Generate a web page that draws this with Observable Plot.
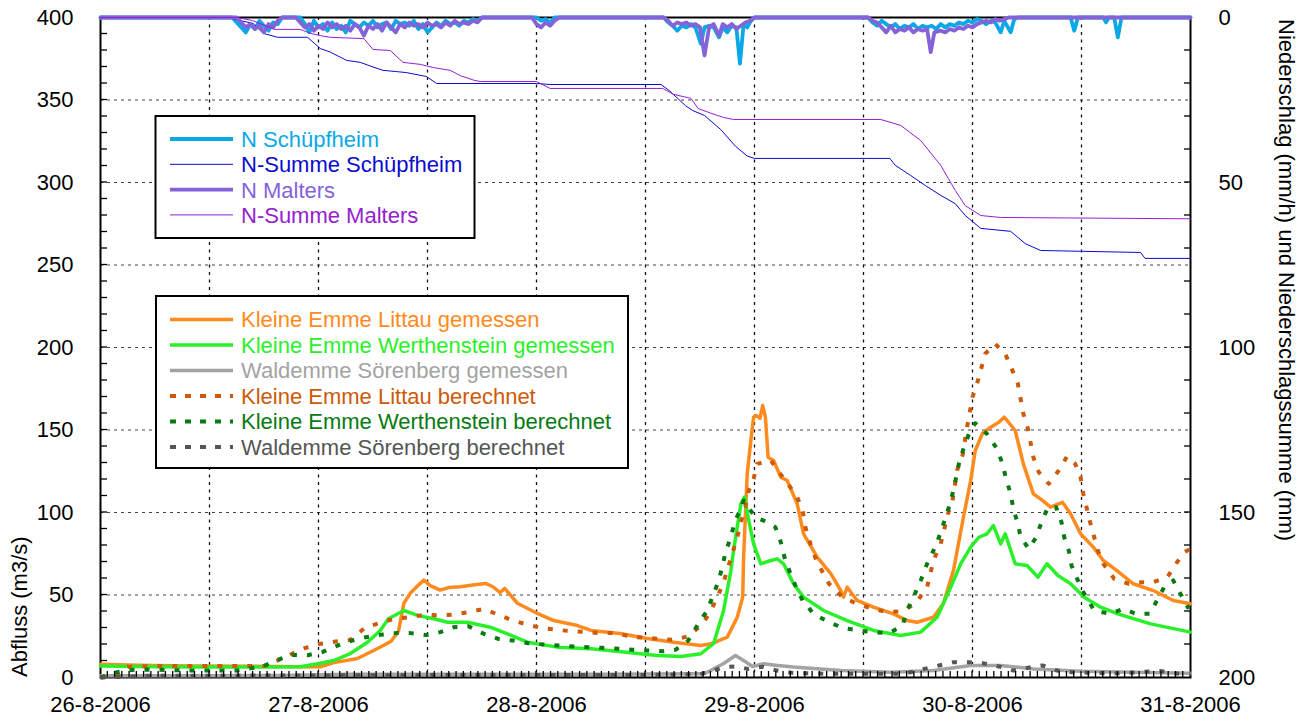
<!DOCTYPE html>
<html>
<head>
<meta charset="utf-8">
<script src="https://cdn.jsdelivr.net/npm/d3@7"></script>
<script src="https://cdn.jsdelivr.net/npm/@observablehq/plot@0.6"></script>
<style>
  body { margin: 0; background: #fff; }
  #chart svg { font-family: "Liberation Sans", Arial, Helvetica, sans-serif; }
</style>
</head>
<body>
<div id="chart"></div>
<script>
// ---------- DATA (time = hours since 26-8-2006 00:00) ----------
const dayTickLabels = ["26-8-2006", "27-8-2006", "28-8-2006", "29-8-2006", "30-8-2006", "31-8-2006"];
const leftTicks = [0, 50, 100, 150, 200, 250, 300, 350, 400];
const rightTickLabels = [0, 50, 100, 150, 200];

// discharge (m3/s)
const littauGemessen = [[0,8],[4,7.5],[10,7],[16,6.8],[22,6.5],[24.2,6.5],[25.7,9],[28.3,11.5],[30.5,17.6],[32,22],[32.8,28],[33.4,45],[34.1,51],[35,56],[35.6,59],[36.3,55.7],[37.4,53],[38.3,54.5],[39.6,55],[41,56],[42.4,57],[43.2,55],[44,51.5],[44.5,54],[45.9,45],[48.1,38.8],[49.9,34.5],[52.5,31.5],[54,28.5],[57.2,26.7],[60.2,23.6],[63.1,21.3],[66.1,19.4],[67.2,20.4],[69,24.4],[70.1,36.5],[70.7,48.7],[70.8,72.9],[71.2,123.6],[71.6,143.6],[71.9,157.8],[72.2,158.8],[72.6,157],[72.9,164.8],[73.2,157.8],[73.5,133.5],[74.1,131.5],[74.9,121.4],[75.6,119.4],[76.7,105.3],[77.4,87],[78.9,72.9],[80.4,63],[81.5,52.7],[81.8,48.7],[82.2,54.7],[83.3,46.7],[85.1,42.6],[87.3,38.6],[88.8,34.5],[89.9,33.5],[91.7,36.5],[92.8,44.8],[93.9,64.8],[95,97.1],[95.8,119.4],[96.3,137.6],[97.1,147.9],[98,151.7],[98.9,154.7],[99.5,157.8],[100.7,149.7],[101.6,129.5],[102.7,111.3],[103.7,107.3],[104.6,103.2],[105.9,106.2],[106.8,99.2],[107.9,87.1],[109.3,79],[110.4,70.9],[111.9,64.8],[113.7,56.8],[115.9,52.7],[118.1,46.7],[120,44.7]];

const werthensteinGemessen = [[0,7],[6,6.5],[12,6.3],[18,6.3],[22,6.5],[23.9,8.3],[25.7,10.3],[27.5,14.5],[29.4,21.4],[30.8,28.5],[31.7,35.6],[33.4,40.6],[34.9,37.6],[36.7,35.6],[38.2,33.5],[40.4,33.5],[42.9,30.5],[44.8,26.5],[47,21.4],[50.3,18.4],[54,17.4],[57.6,15.4],[61.3,13.3],[63.9,12.7],[66.1,14.4],[67.5,20.6],[68.6,40.6],[69.4,64.8],[69.7,77],[70.5,105.3],[70.9,109.3],[71.3,97.1],[71.9,81],[72.7,68.9],[73.8,70.9],[74.5,71.9],[75.2,68.9],[76.3,56.8],[77.4,48.7],[79.6,40.6],[82.2,34.5],[85.1,28.5],[88.1,25.5],[90.3,27.5],[92.1,36.5],[93.6,54.7],[94.7,68.9],[95.8,79],[96.7,85],[97.6,87.1],[98.3,92.1],[99.1,81],[99.6,87.1],[100.7,68.9],[102,67.9],[103.2,60.8],[104.2,68.9],[105.4,61.8],[106.8,56.8],[108.3,48.7],[110.1,42.6],[112,38.6],[115.6,32.5],[120,27.5]];

const waldemmeGemessen = [[0,1],[10,1],[20,1.2],[27,2],[40,2],[55,2],[66,2.2],[66.8,3.2],[68.6,8.5],[69.9,13.3],[70.8,10.3],[71.8,6.7],[73,8.3],[74.5,7.3],[76.3,6.3],[81.5,4.2],[87,3.2],[91.7,4.2],[95.8,7.3],[99.1,7.3],[102.7,5.2],[107.9,3.8],[113.7,3.2],[120,2.6]];

const littauBerechnet = [[0,0],[1.7,1],[3,6.5],[6,7],[12,7],[18,7],[19.5,10.3],[21.1,14.4],[22.6,18],[24.2,20.4],[25.9,21.8],[27.5,22.8],[29.2,30.5],[30.8,33.1],[32.3,35.6],[33.9,36.5],[35.6,38],[37.4,37.6],[38.9,38.2],[40.5,39.6],[42.2,41.6],[43.8,38],[45.4,34.5],[47,32.1],[48.6,29.9],[50.3,28.9],[51.7,28.1],[53.6,27.5],[55,26.9],[56.7,26.9],[58.4,24.8],[60,24],[61.7,23.4],[63.1,22.8],[64.7,25],[66.3,32.5],[67.2,40.6],[68,49.7],[68.6,57.8],[69.1,66.9],[69.6,75.9],[70.1,85],[70.5,94.1],[71,103.2],[71.3,112.3],[71.9,120.4],[72.3,129.5],[73.8,131.5],[74.7,124.4],[75.4,119.4],[76.2,113.3],[76.7,109.3],[77.3,101.2],[77.6,91.1],[78.5,75],[79.3,65.9],[80.2,56.8],[81.7,48.7],[83.3,44.6],[85.1,41.6],[86.6,39.6],[88.1,40],[89.7,44.6],[91,54.7],[91.7,70.9],[92.5,81],[93.3,99.2],[93.8,107.3],[94.3,125.5],[94.9,134.5],[95.4,151.7],[96,169.9],[96.5,178],[97.4,196.2],[98.5,202.2],[99.6,196.2],[100.4,186],[101,178],[101.3,168.9],[101.6,159.8],[102.1,150.7],[102.7,133.5],[103.3,124.4],[104.4,117.4],[105.5,125.5],[106.4,133.9],[107.3,129.5],[107.9,121.4],[108.2,111.3],[108.9,95.1],[109.8,77],[110.4,68.9],[111.6,59.8],[113.2,56.8],[114.8,57.8],[115.9,57.8],[117.5,61.2],[118.4,68.9],[119.3,75.9],[120,78]];

const werthensteinBerechnet = [[0,0],[1.8,3.2],[3.5,4.6],[5.1,4.8],[10,4.2],[15,4.2],[17.9,6.7],[19.5,10.7],[21.1,13.7],[22.8,13.5],[24.4,15.4],[26.1,19.4],[27.7,22.4],[29.2,24.4],[30.8,25.9],[32.5,26.9],[34.1,26.9],[35.8,25.7],[37.4,27.5],[38.9,30.5],[40.5,31.1],[42.2,26.5],[43.8,23.4],[45.4,22.4],[47.1,20.8],[48.8,20],[50.4,19.4],[52.1,18.8],[53.6,18.4],[55.3,18],[57,17.4],[58.6,16.8],[60.2,16.4],[61.9,15.9],[63.3,16.8],[64.7,22.4],[65.8,32.5],[66.8,40.6],[67.5,50.7],[68,57.8],[68.5,67.9],[68.8,75.9],[69.4,85],[69.8,94.1],[70.5,102.2],[70.8,107.3],[72.1,97.1],[73,95.1],[74,92.1],[74.3,91.1],[74.9,82],[75.3,72.9],[75.9,63.8],[76.5,55.7],[77.3,46.7],[78.5,38.6],[80.2,33.5],[81.8,29.9],[83.5,28.5],[85.1,27.5],[86.8,26.9],[88.3,31.5],[88.8,40.6],[89.5,48.7],[90.3,58.8],[91,68.9],[91.7,76.9],[92.3,85],[92.8,93.1],[93.4,103.2],[93.9,113.3],[94.5,129.5],[95,138.6],[95.6,147.6],[96.3,154.1],[97.6,147.6],[98.7,138.6],[99.3,129.5],[99.7,120.4],[100.2,111.3],[100.5,102.2],[101,93.1],[101.3,85],[102.2,78],[103,85],[103.6,94.1],[104.3,103.2],[105.2,103.2],[105.8,94.1],[106.1,85],[106.6,76.9],[106.9,67.9],[107.6,58.8],[108.3,50.7],[109.4,40.6],[111.1,38.6],[112.6,41.6],[114,38.6],[115.5,38.6],[116.2,45.6],[117.1,54.7],[118.1,58.8],[118.9,50.7],[119.8,41.6]];

const waldemmeBerechnet = [[0,0],[5,1],[20,1.2],[40,1.5],[60,1.5],[66,2],[67.5,4],[68.5,6.3],[69.9,6.7],[71.3,5.2],[72.9,6.5],[74.5,4.2],[76.2,2.8],[80,2.2],[88,2.2],[89.2,3.2],[90.7,5.2],[92.3,7.3],[93.9,9.3],[95.6,9.3],[97.1,8.7],[98.9,6.7],[100.5,4.2],[102,5.8],[103.7,7.3],[105.3,4.2],[107,3.2],[112,2.5],[116.7,4],[118,2.5],[120,2.2]];

// precipitation intensity (mm/h) and cumulative sum (mm) -> right axis
const nSchuepfheim = [[0,0],[14.5,0],[15,1.5],[15.5,3],[16,4.5],[16.5,2],[17,3.5],[17.5,1],[18,2.5],[18.5,4],[19,1.5],[19.5,2],[20,0],[22,0],[22.5,2],[23,4.5],[23.5,1],[24,3],[24.5,2],[25,4],[25.5,1.5],[26,3.5],[26.5,2.5],[27,4.5],[27.5,1],[28,2],[28.5,3],[29,1.5],[29.5,2.5],[30,1],[30.5,3],[31,2],[31.5,1.5],[32,3.5],[32.5,1],[33,2],[33.5,1.5],[34,2.5],[34.5,1],[35,3.5],[35.5,2],[36,4.5],[36.5,3],[37,1.5],[37.5,2.5],[38,1],[38.5,2],[39,1.5],[39.5,2.5],[40,1],[40.5,1.5],[41,0.5],[41.5,1],[42,0],[48,0],[48.5,1],[49,0.5],[49.5,1.5],[50,0],[62,0],[62.5,1.5],[63,2.5],[63.5,4],[64,2.5],[64.5,3],[65,2],[65.5,3],[66.1,8],[66.5,3],[67,2.5],[67.5,3],[68.1,6],[68.5,3],[69,4.5],[69.5,2.5],[70,3],[70.4,14],[70.8,2],[71.2,3],[71.6,1],[72,0],[84.5,0],[85,1.5],[85.5,2.5],[86,1],[86.5,2],[87,3],[87.5,2],[88,3.5],[88.5,2.5],[89,3],[89.5,2],[90,3.5],[90.5,2.5],[91,3],[91.5,2.5],[92,3.5],[92.5,2],[93,3],[93.5,2],[94,2.5],[94.5,1.5],[95,2],[95.5,1],[96,1.5],[96.5,0.5],[97,1],[97.5,2],[98,1],[98.5,1.5],[99.1,4.5],[99.5,1],[100.2,4.5],[100.6,0.5],[101,0],[106.8,0],[107.2,4],[107.6,0],[110.4,0],[110.7,1.5],[111,0],[111.6,0],[112,6],[112.4,0],[120,0]];

const summeSchuepfheim = [[0,0],[14,0],[15.5,1],[16.8,1.8],[17.9,4.8],[19.5,6],[22.8,6],[24.2,9.4],[25.3,10.5],[27.1,13],[28.6,13.6],[30,15],[31.1,16],[32.6,16.4],[33.7,16.7],[35.9,17.9],[37,20],[48,20],[49.5,20.3],[61.7,20.3],[62.6,22.1],[64.4,26.7],[65.2,28.2],[66.5,29.7],[68.3,34],[69.9,39],[71.2,42],[72,42.7],[86.9,42.7],[87.5,44.8],[89.2,47.9],[90.8,50.9],[92.5,53.9],[94.1,56.4],[95.2,60],[96.9,63.9],[100.2,64.8],[101.8,68.5],[103.5,70.6],[114.5,71.2],[115,73],[120,73]];

const nMalters = [[0,0],[15,0],[15.5,1.5],[16,3],[16.5,2],[17,3.5],[17.5,2.5],[18,4.5],[18.5,2],[19,3],[19.5,1],[20,0],[21.5,0],[22,1.5],[22.5,3],[23,2],[23.5,4],[24,2.5],[24.5,3.5],[25,1.5],[25.5,3],[26,2],[26.5,3.5],[27,2.5],[27.5,4],[28,2],[28.5,3],[29,5.5],[29.5,2.5],[30,3.5],[30.5,2],[31,4],[31.5,1.5],[32,3],[32.5,4.5],[33,2],[33.5,3],[34,1.5],[34.5,2.5],[35,2],[35.5,3],[36,1.5],[36.5,2.5],[37,2],[37.5,3],[38,1.5],[38.5,2.5],[39,1],[39.5,2],[40,1.5],[40.5,2],[41,1],[41.5,1.5],[42,0],[47.5,0],[48,2],[48.5,3],[49,1.5],[49.5,2.5],[50,1],[50.5,0],[62,0],[62.5,1],[63,2.5],[63.5,1.5],[64,2],[64.5,1.5],[65,2.5],[65.5,2],[66,3],[66.5,11.5],[67,3],[67.5,2],[68.1,5.5],[68.5,2],[69,3],[69.5,2],[70,3.5],[70.5,2.5],[71,1.5],[71.5,1],[72,0],[84.5,0],[85,1],[85.5,1.5],[86,3],[86.5,4.5],[87,2.5],[87.5,4.5],[88,3.5],[88.5,4],[89,3],[89.5,4.5],[90,3.5],[90.5,4],[91,3.5],[91.4,10.5],[91.8,4.5],[92.5,4],[93,4.5],[93.5,3.5],[94,4],[94.5,3],[95,3.5],[95.5,2.5],[96,3],[96.5,2],[97,1.5],[97.5,1],[98,1.5],[98.5,0.5],[99,1],[99.5,0.5],[100,0],[120,0]];

const summeMalters = [[0,0],[15,0],[16.7,0.9],[19.2,3.6],[22,3.6],[23.1,4.8],[24.2,5.5],[25.3,6],[29,6.4],[30,9.7],[31.9,10],[33.3,13.6],[35.2,14.2],[36.7,15.2],[38.5,16],[39.6,17.6],[41.1,19],[41.8,19.4],[48,19.4],[49.5,21.5],[61.9,21.5],[63.1,23.3],[65,24.5],[65.8,27.6],[67.2,29],[68.6,30.3],[69.7,30.9],[85.9,30.9],[88.1,32.7],[90.3,37.3],[92.5,44.8],[94.1,52.4],[95.2,57],[96.9,60],[99.1,60.6],[120,61]];

// ---------- SCALES / HELPERS ----------
const START = Date.UTC(2006, 7, 26);
const T = h => new Date(START + h * 3600e3);
const rightToLeft = r => 400 - 2 * r;       // secondary axis: mm (0 top, 200 bottom)
const dayTicks = dayTickLabels.map((_, i) => T(24 * i));
const gridTimes = d3.range(12, 120, 12).map(T);
const minorX = d3.range(0.8, 120, 0.8).map(T);
const minorYLeft = d3.range(10, 400, 10);
const minorYRight = d3.range(20, 400, 20);
const rightTicks = rightTickLabels.map(rightToLeft);

const series = {
  nS:  {name: "N Schüpfheim", color: "#0aa8e6", width: 3.8},
  sS:  {name: "N-Summe Schüpfheim", color: "#0a0ad0", width: 1},
  nM:  {name: "N Malters", color: "#8463d8", width: 3.8},
  sM:  {name: "N-Summe Malters", color: "#9420d0", width: 1},
  lG:  {name: "Kleine Emme Littau gemessen", color: "#ff8a1e", width: 3.5},
  wG:  {name: "Kleine Emme Werthenstein gemessen", color: "#2af02a", width: 3.5},
  waG: {name: "Waldemme Sörenberg gemessen", color: "#a3a3a3", width: 3.5},
  lB:  {name: "Kleine Emme Littau berechnet", color: "#cc5a08", width: 4, dash: "5,10"},
  wB:  {name: "Kleine Emme Werthenstein berechnet", color: "#077a12", width: 4, dash: "5,10"},
  waB: {name: "Waldemme Sörenberg berechnet", color: "#555555", width: 4, dash: "5,10"}
};

const q = (data, s, toY = d => d[1]) => Plot.line(data, {
  x: d => T(d[0]), y: toY, stroke: s.color, strokeWidth: s.width,
  strokeDasharray: s.dash, strokeLinejoin: "round", strokeLinecap: s.dash ? "butt" : "round"
});
const qr = (data, s) => q(data, s, d => rightToLeft(d[1]));

const plot = Plot.plot({
  width: 1306,
  height: 724,
  marginLeft: 100,
  marginRight: 116,
  marginTop: 17,
  marginBottom: 47,
  style: {fontFamily: "'Liberation Sans', Arial, Helvetica, sans-serif", fontSize: "22px", color: "black", background: "white", overflow: "visible"},
  x: {type: "utc", domain: [T(0), T(120)]},
  y: {domain: [0, 400]},
  marks: [
    Plot.ruleY(leftTicks.filter(v => v > 0 && v < 400), {stroke: "#444", strokeWidth: 1, strokeDasharray: "3,4"}),
    Plot.ruleX(gridTimes, {stroke: "#111", strokeWidth: 1.3, strokeDasharray: "3,4.5"}),
    // axes: labels
    Plot.axisX(dayTicks, {tickSize: 0, tickPadding: 19, tickFormat: (d, i) => dayTickLabels[i], stroke: "none", label: null, fontSize: 22}),
    Plot.axisY(leftTicks, {tickSize: 0, tickPadding: 27, label: null, stroke: "none", fontSize: 22}),
    Plot.axisY(rightTicks, {anchor: "right", tickSize: 0, tickPadding: 28, tickFormat: (d, i) => rightTickLabels[i], label: null, stroke: "none", fontSize: 22}),
    Plot.frame({stroke: "black", strokeWidth: 2}),
    // precipitation
    qr(nSchuepfheim, series.nS),
    qr(summeSchuepfheim, series.sS),
    qr(nMalters, series.nM),
    qr(summeMalters, series.sM),
    // discharge
    q(littauGemessen, series.lG),
    q(werthensteinGemessen, series.wG),
    q(waldemmeGemessen, series.waG),
    q(littauBerechnet, series.lB),
    q(werthensteinBerechnet, series.wB),
    q(waldemmeBerechnet, series.waB)
  ]
});

document.getElementById("chart").appendChild(plot);

// ---------- minor ticks (inward), positioned through the plot's own scales ----------
const svg = d3.select(plot);
const sx = plot.scale("x"), sy = plot.scale("y");
const xL = sx.apply(T(0)), xR = sx.apply(T(120));
const yB = sy.apply(0);
const tg = svg.append("g").attr("stroke", "black").attr("stroke-width", 1.3);
minorX.forEach(t => {
  const x = sx.apply(t);
  tg.append("line").attr("x1", x).attr("x2", x).attr("y1", yB).attr("y2", yB - 6);
});
minorYLeft.forEach(v => {
  const y = sy.apply(v);
  tg.append("line").attr("x1", xL).attr("x2", xL + 7).attr("y1", y).attr("y2", y);
});
minorYRight.forEach(v => {
  const y = sy.apply(v);
  tg.append("line").attr("x1", xR - 6).attr("x2", xR).attr("y1", y).attr("y2", y);
});

// ---------- axis titles & legends ----------
svg.append("text")
  .attr("transform", "translate(27,677) rotate(-90)")
  .attr("text-anchor", "start").attr("font-size", 22).attr("fill", "black")
  .text("Abfluss (m3/s)");
svg.append("text")
  .attr("transform", "translate(1279,19) rotate(90)")
  .attr("text-anchor", "start").attr("font-size", 22).attr("fill", "black")
  .text("Niederschlag (mm/h) und Niederschlagssumme (mm)");

function legend(items, box, y0, step) {
  const g = svg.append("g").attr("text-anchor", "start");
  g.append("rect").attr("x", box[0]).attr("y", box[1]).attr("width", box[2]).attr("height", box[3])
    .attr("fill", "white").attr("stroke", "black").attr("stroke-width", 2);
  items.forEach((s, i) => {
    const y = y0 + i * step;
    g.append("line").attr("x1", 170).attr("x2", 233).attr("y1", y).attr("y2", y)
      .attr("stroke", s.color).attr("stroke-width", s.width)
      .attr("stroke-dasharray", s.dash ? "6,9" : null);
    g.append("text").attr("x", 241).attr("y", y).attr("dy", "0.36em")
      .attr("text-anchor", "start")
      .attr("font-size", 22).attr("fill", s.color).text(s.name);
  });
}
legend([series.nS, series.sS, series.nM, series.sM], [155.5, 116, 319, 122], 139, 25.3);
legend([series.lG, series.wG, series.waG, series.lB, series.wB, series.waB], [156, 296, 472, 172], 319.5, 25.5);
</script>
</body>
</html>
